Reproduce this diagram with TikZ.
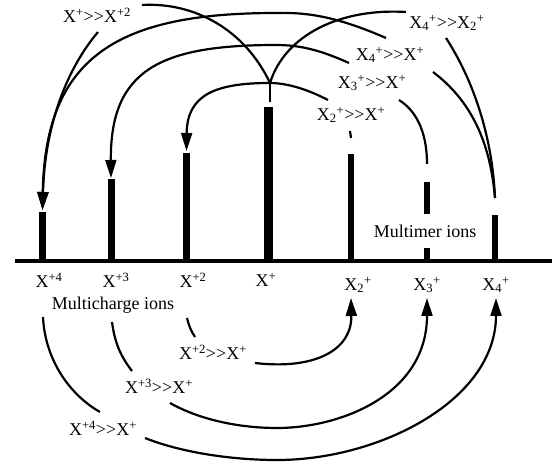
\documentclass[tikz,border=0pt]{standalone}
\usepackage{fontspec}
\setmainfont{Liberation Serif}
\usetikzlibrary{arrows.meta}
\newcommand\Xup[1]{X\textsuperscript{#1}}
\newcommand\Xsub[1]{X\textsubscript{#1}\textsuperscript{+}}
\begin{document}
\begin{tikzpicture}[x=1pt,y=-1pt,
  lab/.style={font=\fontsize{18}{20}\selectfont, inner sep=0pt},
  bar/.style={fill=black, inner sep=0pt, anchor=south},
  conn/.style={line width=2.2pt},
  arr/.style={conn, -{Triangle[width=11pt,length=18pt]}},
]
\useasboundingbox (0,0) rectangle (552,462);
% axis
\coordinate (axL) at (15,261);
\coordinate (axR) at (552,261);
\draw[line width=4.5pt] (axL) -- (axR);
% bars
\node[bar, minimum width=7pt, minimum height=49pt]  (m4) at (42.5,261) {};
\node[bar, minimum width=7pt, minimum height=82pt]  (m3) at (111,261) {};
\node[bar, minimum width=7pt, minimum height=108pt] (m2) at (186.5,261) {};
\node[bar, minimum width=9pt, minimum height=154pt] (p1) at (268.5,261) {};
\node[bar, minimum width=6pt, minimum height=107pt] (d2) at (350.5,261) {};
\node[bar, minimum width=6pt, minimum height=79pt]  (d3) at (427,261) {};
\node[bar, minimum width=6pt, minimum height=46pt]  (d4) at (495,261) {};
% axis labels
\node[lab] (lm4) at (49,280) {\Xup{+4}};
\node[lab] (lm3) at (116,280) {\Xup{+3}};
\node[lab] (lm2) at (193,280) {\Xup{+2}};
\node[lab] (lp1) at (266,280) {\Xup{+}};
\node[lab] (ld2) at (358,285) {\Xsub{2}};
\node[lab] (ld3) at (427,285) {\Xsub{3}};
\node[lab] (ld4) at (496,285) {\Xsub{4}};
\node[lab] (mc) at (113,305) {Multicharge ions};
\node[lab, fill=white, inner ysep=11pt, inner xsep=1pt] (mm) at (425,231) {Multimer ions};
% top labels
\node[lab] (t0)  at (97,15)   {\Xup{+}>{}>\Xup{+2}};
\node[lab] (t42) at (447,23)  {\Xsub{4}>{}>\Xsub{2}};
\node[lab] (t41) at (390,55)  {\Xsub{4}>{}>\Xup{+}};
\node[lab] (t31) at (372,83)  {\Xsub{3}>{}>\Xup{+}};
\node[lab] (t21) at (351,115) {\Xsub{2}>{}>\Xup{+}};
% bottom labels
\node[lab] (u2) at (213,352) {\Xup{+2}>{}>\Xup{+}};
\node[lab] (u3) at (159,386) {\Xup{+3}>{}>\Xup{+}};
\node[lab] (u4) at (103,428) {\Xup{+4}>{}>\Xup{+}};
% coordinates
\coordinate (cusp) at (270,83);
\coordinate (stubend) at (270,102);
\coordinate (m4tip) at (42.5,210);
\coordinate (m3tip) at (111,178);
\coordinate (m2tip) at (186.5,151);
\coordinate (t0b) at (98,32);
\coordinate (t0r) at (142,5);
\coordinate (t41l) at (386,38);
\coordinate (k1) at (276,13);
\coordinate (t31l) at (349,63);
\coordinate (k2) at (276,45);
\coordinate (t42l) at (406,12);
\coordinate (t21l) at (328,100);
\coordinate (d3top) at (427,164);
\coordinate (t31b) at (399,100);
\coordinate (d4top) at (495,198);
\coordinate (t42b) at (446,38);
\coordinate (t41b) at (433,72);
\coordinate (tk1) at (350,131);
\coordinate (tk2) at (351,138);
\coordinate (mc2) at (187,318);
\coordinate (u2t) at (195,337);
\coordinate (u2r) at (255,363);
\coordinate (d2tip) at (351,298);
\coordinate (mc3) at (112,322);
\coordinate (u3t) at (132,371);
\coordinate (u3r) at (170,403);
\coordinate (k3) at (277,428);
\coordinate (d3tip) at (427,298);
\coordinate (mc4) at (43,317);
\coordinate (u4t) at (100,412);
\coordinate (u4r) at (145,438);
\coordinate (k4) at (277,460);
\coordinate (d4tip) at (496,298);
% top curves
\draw[arr] (t0b) .. controls (70,65) and (45,120) .. (m4tip);
\draw[arr] (t41l) .. controls (340,18) and (310,12) .. (k1) .. controls (120,13) and (45,55) .. (m4tip);
\draw[arr] (t31l) .. controls (320,50) and (300,45) .. (k2) .. controls (160,45) and (110,70) .. (m3tip);
\draw[conn] (t42l) .. controls (340,8) and (285,35) .. (cusp);
\draw[conn] (t0r) .. controls (195,2) and (245,30) .. (cusp);
\draw[conn] (cusp) -- (stubend);
\draw[arr] (t21l) .. controls (305,88) and (285,83) .. (cusp) .. controls (215,83) and (187,95) .. (m2tip);
\draw[conn] (d3top) .. controls (427,130) and (415,110) .. (t31b);
\draw[conn] (d4top) .. controls (492,130) and (470,75) .. (t42b);
\draw[conn] (d4top) .. controls (490,140) and (470,100) .. (t41b);
\draw[conn] (tk1) -- (tk2);
% bottom curves
\draw[conn] (mc2) .. controls (189,326) and (191,331) .. (u2t);
\draw[arr] (u2r) .. controls (315,370) and (352,350) .. (d2tip);
\draw[conn] (mc3) .. controls (115,345) and (122,358) .. (u3t);
\draw[arr] (u3r) .. controls (200,420) and (240,428) .. (k3) .. controls (340,428) and (427,395) .. (d3tip);
\draw[conn] (mc4) .. controls (45,360) and (70,395) .. (u4t);
\draw[arr] (u4r) .. controls (180,452) and (230,460) .. (k4) .. controls (380,460) and (496,400) .. (d4tip);
\end{tikzpicture}
\end{document}
